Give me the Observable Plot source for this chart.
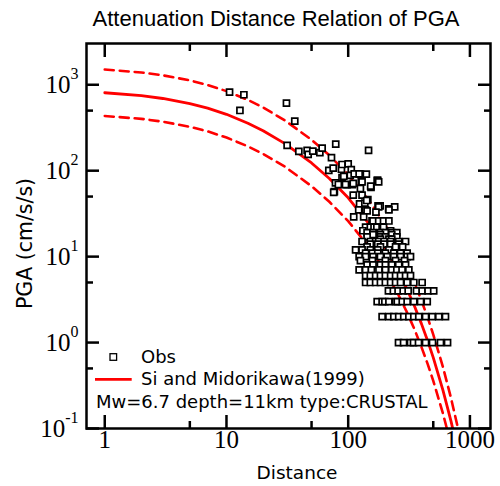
<!DOCTYPE html>
<html><head><meta charset="utf-8">
<script src="https://cdn.jsdelivr.net/npm/d3@7"></script>
<script src="https://cdn.jsdelivr.net/npm/@observablehq/plot@0.6"></script>
<style>
body{margin:0;background:#fff;}
#wrap{position:relative;width:500px;height:486px;overflow:hidden;background:#fff}
#title{position:relative;height:36px}
#title span{position:absolute;left:276px;top:8px;transform:translateX(-50%);white-space:nowrap;font:22px/22px "Liberation Sans",Arial,sans-serif;color:#000}
#overlay{position:absolute;left:0;top:0;pointer-events:none}
#overlay text{font-family:"DejaVu Sans",sans-serif;fill:#000}
</style></head><body>
<div id="wrap">
<div id="title"><span>Attenuation Distance Relation of PGA</span></div>
<div id="chart"></div>
<svg id="overlay" width="500" height="486">
  <rect x="110" y="353.7" width="6.6" height="6.6" fill="white" stroke="black" stroke-width="1.3"/>
  <text x="141" y="363.3" font-size="18">Obs</text>
  <line x1="95" x2="131.7" y1="379.3" y2="379.3" stroke="red" stroke-width="2.7"/>
  <text x="141" y="385" font-size="18">Si and Midorikawa(1999)</text>
  <text x="96" y="408" font-size="18">Mw=6.7 depth=11km type:CRUSTAL</text>
  <text x="297" y="479" text-anchor="middle" font-size="18.5">Distance</text>
  <text transform="translate(32,243.5) rotate(-90)" text-anchor="middle" font-size="20.5">PGA (cm/s/s)</text>
</svg>
</div>
<script>
// Attenuation relation
const modelDist  = [1, 2, 3, 5, 7, 10, 15, 20, 30, 50, 70, 100, 150, 200, 250, 300, 350, 400, 450, 500, 600, 700, 800, 900];
const modelMean  = [807, 746, 692, 604, 534, 453, 357, 292, 208, 123, 81, 48.3, 23.6, 12.8, 7.33, 4.36, 2.66, 1.65, 1.045, 0.667, 0.280, 0.121, 0.053, 0.0237];
const modelUpper = [1503, 1389, 1288, 1125, 994, 843, 665, 544, 387, 229, 151, 89.9, 43.9, 23.8, 13.65, 8.12, 4.95, 3.07, 1.946, 1.24, 0.521, 0.225, 0.0987, 0.044];
const modelLower = [433, 401, 372, 324, 287, 243, 192, 157, 112, 66.1, 43.5, 25.9, 12.7, 6.87, 3.94, 2.34, 1.43, 0.886, 0.561, 0.358, 0.150, 0.0648, 0.0285, 0.0127];

// Scattered observations
const obsPGA = [
  820, 765, 502, 611, 378, 197, 168, 172, 172, 155, 169, 162, 183, 204, 142,
  101, 107, 104, 118, 120, 103, 91, 91, 77, 77, 72, 69, 69, 69, 69, 71, 83, 88, 86, 92, 92,
  75, 74, 74, 64, 66, 57, 56, 62, 52, 52, 46, 41, 39, 39, 42, 45,
  36, 38, 38, 33, 35, 35, 35, 34, 29, 29,
  26, 26, 26, 26, 26, 22, 22, 22, 22, 22, 22, 20, 20
];
const obsDist = [
  10.6, 13.9, 12.9, 31.1, 36.4, 31.5, 39.3, 46, 147, 46.9, 51.2, 58.5, 61.1, 79, 72.9,
  69.3, 75.3, 88, 89, 100, 106, 126, 141, 173, 175, 78.6, 98, 83, 95, 108, 110, 89, 104, 92, 112, 123,
  128, 130, 178, 154, 153, 77, 76, 126, 110, 130, 145, 124, 176, 183, 137, 142,
  215, 241, 178, 169, 139, 122, 216, 143, 111, 134,
  157, 160, 178, 195, 216, 139, 152, 163, 172, 190, 195, 132, 223
];
// Observations at integer PGA values (rows)
const rowPGA = [19, 18, 17, 16, 15, 14, 13, 12, 11, 10, 9, 8, 7, 6, 5, 4, 3, 2, 1];
const rowDists = [
  [143, 160, 184, 202, 228, 251],
  [160, 184, 228],
  [143, 184, 202, 251],
  [184, 216, 228],
  [130, 152, 168, 178, 197, 223, 260, 296],
  [152, 175, 197, 223, 260],
  [143, 184, 245, 280],
  [115, 130, 152, 175, 216],
  [139, 158, 175, 202, 237, 269, 305],
  [123, 139, 160, 184, 209, 237, 269, 305, 325],
  [126, 158, 202, 245, 290],
  [143, 160, 184, 202, 228, 260, 296],
  [123, 139, 155, 179, 202, 228, 251, 277, 315],
  [139, 152, 168, 184, 202, 223, 245, 269, 296, 325],
  [139, 152, 168, 184, 202, 223, 245, 269, 305, 346, 405],
  [214, 235, 257, 283, 311, 364, 405, 453, 504],
  [173, 190, 200, 216, 245, 253, 278, 305, 346, 393, 446],
  [190, 216, 237, 260, 286, 315, 346, 380, 432, 490, 555, 630],
  [259, 285, 325, 344, 378, 432, 493, 573, 655]
];

const xMajor = [1, 10, 100, 1000];
const xMinor = [5, 50, 500];
const yMajor = [0.1, 1, 10, 100, 1000];
const yMinor = [0.5, 5, 50, 500];

const obs = obsDist.map((d, i) => ({d, v: obsPGA[i]}));
rowPGA.forEach((v, i) => rowDists[i].forEach(d => obs.push({d, v})));
const mean = modelDist.map((d, i) => ({d, v: modelMean[i]}));
const upper = modelDist.map((d, i) => ({d, v: modelUpper[i]}));
const lower = modelDist.map((d, i) => ({d, v: modelLower[i]}));

const serif = "'Liberation Serif','Times New Roman',serif";
const sw = 2.5;
const chart = Plot.plot({
  width: 500, height: 450,
  marginTop: 7, marginBottom: 58, marginLeft: 86, marginRight: 10,
  x: {type: "log", domain: [0.708, 1476]},
  y: {type: "log", domain: [0.1, 3020]},
  style: {background: "white", color: "black", overflow: "visible"},
  marks: [
    Plot.line(upper, {x: "d", y: "v", stroke: "red", strokeWidth: 2.6, strokeDasharray: "9,6", clip: true}),
    Plot.line(lower, {x: "d", y: "v", stroke: "red", strokeWidth: 2.6, strokeDasharray: "9,6", clip: true}),
    Plot.line(mean, {x: "d", y: "v", stroke: "red", strokeWidth: 2.8, clip: true}),
    Plot.dot(obs, {x: "d", y: "v", symbol: "square", r: 3.4, fill: "white", stroke: "black", strokeWidth: 1.7}),
    Plot.axisX({anchor: "bottom", ticks: xMajor, tickSize: -13, tickPadding: 15, tickFormat: d => String(d), fontSize: 25, fontFamily: serif, strokeWidth: sw, label: null}),
    Plot.axisX({anchor: "bottom", ticks: xMinor, tickSize: -7, fill: "none", strokeWidth: sw, label: null}),
    Plot.axisX({anchor: "top", ticks: xMajor, tickSize: -13, fill: "none", strokeWidth: sw, label: null}),
    Plot.axisX({anchor: "top", ticks: xMinor, tickSize: -7, fill: "none", strokeWidth: sw, label: null}),
    Plot.axisY({anchor: "left", ticks: yMajor, tickSize: -13, tickPadding: 21, tickFormat: d => `10^${Math.round(Math.log10(d))}`, fontSize: 25, fontFamily: serif, strokeWidth: sw, label: null}),
    Plot.axisY({anchor: "left", ticks: yMinor, tickSize: -7, fill: "none", strokeWidth: sw, label: null}),
    Plot.axisY({anchor: "right", ticks: yMajor, tickSize: -13, fill: "none", strokeWidth: sw, label: null}),
    Plot.axisY({anchor: "right", ticks: yMinor, tickSize: -7, fill: "none", strokeWidth: sw, label: null}),
    Plot.frame({stroke: "black", strokeWidth: sw})
  ]
});
chart.querySelectorAll('g[aria-label="y-axis tick label"] text').forEach(t => {
  const [base, exp] = t.textContent.split("^");
  t.textContent = base;
  const ts = document.createElementNS("http://www.w3.org/2000/svg", "tspan");
  ts.setAttribute("dy", "-14");
  ts.setAttribute("font-size", "16");
  ts.textContent = exp;
  t.appendChild(ts);
});
document.getElementById("chart").appendChild(chart);
</script>
</body></html>
